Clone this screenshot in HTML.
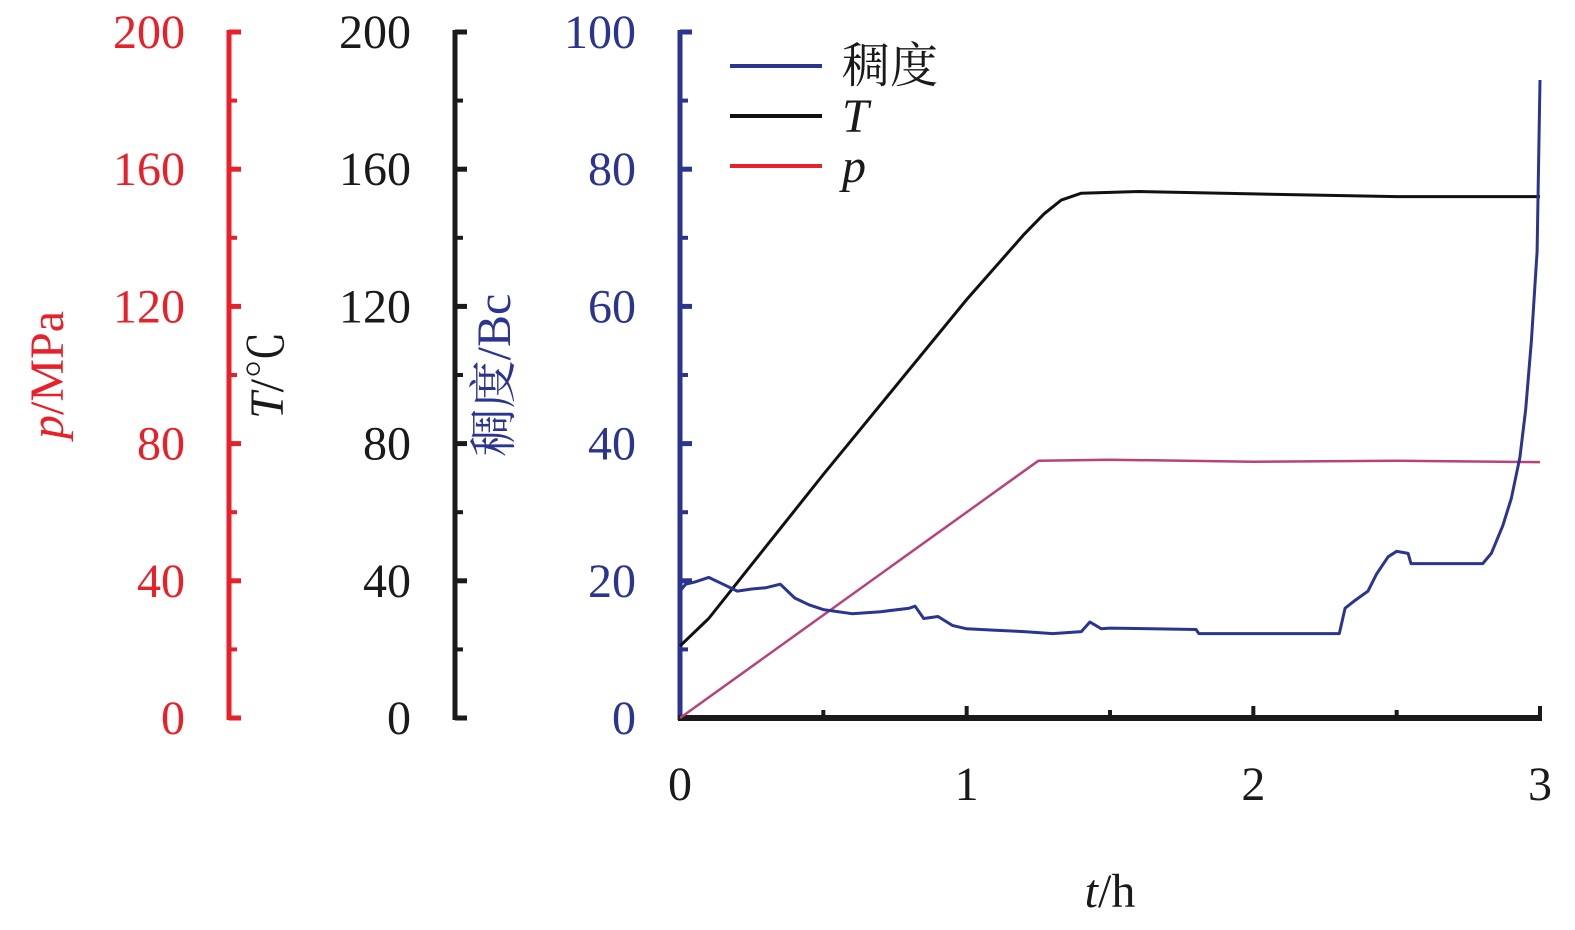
<!DOCTYPE html>
<html><head><meta charset="utf-8"><style>
body{margin:0;background:#fff;}
svg{display:block;font-family:"Liberation Serif","Noto Serif CJK SC",serif;}
</style></head><body>
<svg id="chart" width="1575" height="930" viewBox="0 0 1575 930" xmlns="http://www.w3.org/2000/svg"></svg>
<script>
const xTicks=[0,1,2,3];
const bcTicks=[0,20,40,60,80,100];
const tTicks=[0,40,80,120,160,200];
const pTicks=[0,40,80,120,160,200];
const bcTime=[0,0.02,0.05,0.1,0.15,0.2,0.25,0.3,0.35,0.4,0.45,0.5,0.6,0.7,0.8,0.82,0.85,0.9,0.95,1.0,1.1,1.2,1.3,1.4,1.43,1.47,1.5,1.8,1.81,2.3,2.32,2.35,2.4,2.43,2.47,2.5,2.54,2.55,2.8,2.83,2.87,2.9,2.93,2.95,2.97,2.99,3.0];
const bcVal=[18.5,19.5,19.8,20.5,19.5,18.5,18.8,19,19.5,17.5,16.5,15.8,15.2,15.5,16,16.3,14.5,14.8,13.5,13,12.8,12.6,12.3,12.6,14,13,13.1,12.9,12.3,12.3,16,17,18.5,21,23.5,24.3,24,22.5,22.5,24,28,32,38,45,55,68,93];
const tTime=[0,0.1,0.5,1.0,1.2,1.27,1.33,1.4,1.6,2.0,2.5,3.0];
const tVal=[21,29,71,122,141,147,151,153,153.5,152.8,152,152];
const pTime=[0,1.25,1.5,2.0,2.5,3.0];
const pVal=[0,75,75.3,74.7,75,74.6];

const svg=document.getElementById('chart');
const NS='http://www.w3.org/2000/svg';
const X0=680,X1=1540,Y0=718,Y1=32;
const xs=t=>X0+t/3*(X1-X0);
const yBc=v=>Y0-v/100*(Y0-Y1);
const yT=v=>Y0-v/200*(Y0-Y1);
const yP=v=>Y0-v/200*(Y0-Y1);
function mk(tag,attrs,parent){const e=document.createElementNS(NS,tag);for(const k in attrs)e.setAttribute(k,attrs[k]);(parent||svg).appendChild(e);return e;}

function yAxis(ax,color,ticks,yf,name){
  const g=mk('g',{});
  
  
  const l=mk('line',{x1:ax,x2:ax,y1:Y1-2,y2:Y0+2,stroke:color,'stroke-width':5},g);
  
  
  ticks.forEach((v,i)=>{
    const y=yf(v);
    mk('line',{x1:ax,x2:ax+12,y1:y,y2:y,stroke:color,'stroke-width':5},g);
    if(i<ticks.length-1){const ym=(y+yf(ticks[i+1]))/2;mk('line',{x1:ax,x2:ax+8,y1:ym,y2:ym,stroke:color,'stroke-width':4},g);}
    const t=mk('text',{x:ax-44,y:y+16,'text-anchor':'end','font-size':48,fill:color},g);
    
    
    t.textContent=v;
  });
}
yAxis(229,'#e8202a',pTicks,yP,'p-axis');
yAxis(455,'#1a1a1a',tTicks,yT,'t-axis');
yAxis(680,'#2b3590',bcTicks,yBc,'bc-axis');

const xa=mk('line',{x1:X0-2,x2:X1+2,y1:Y0,y2:Y0,stroke:'#1a1a1a','stroke-width':6});


for(let t=0.5;t<=3;t+=0.5){const x=xs(t);const major=Math.abs(t-Math.round(t))<1e-6;mk('line',{x1:x,x2:x,y1:Y0,y2:Y0-(major?12:8),stroke:'#1a1a1a','stroke-width':4});}
xTicks.forEach(v=>{const t=mk('text',{x:xs(v),y:800,'text-anchor':'middle','font-size':48,fill:'#1a1a1a'});


t.textContent=v;});

function title(x,y,color,html,name){const t=mk('text',{x:x,y:y,'text-anchor':'middle','font-size':48,fill:color,transform:`rotate(-90 ${x} ${y})`});


t.innerHTML=html;}
title(63,375,'#e8202a','<tspan font-style="italic">p</tspan>/MPa','p-axis-title');
title(283,375,'#1a1a1a','<tspan font-style="italic">T</tspan>/℃','t-axis-title');
title(510,375,'#2b3590','稠度/Bc','bc-axis-title');
const xt=mk('text',{x:1110,y:907,'text-anchor':'middle','font-size':48,fill:'#1a1a1a'});


xt.innerHTML='<tspan font-style="italic">t</tspan>/h';

function series(tt,vv,yf,color,w,name){const d=tt.map((t,i)=>(i?'L':'M')+xs(t).toFixed(1)+' '+yf(vv[i]).toFixed(1)).join(' ');
const p=mk('path',{d:d,fill:'none',stroke:color,'stroke-width':w,'stroke-linejoin':'round'});

}
series(pTime,pVal,yP,'#b8437a',2.5,'p-line');
series(tTime,tVal,yT,'#111',3,'t-line');
series(bcTime,bcVal,yBc,'#2b3590',3,'consistency-line');

const lg=mk('g',{});


[['稠度','#2b3590',66,false],['T','#111',116,true],['p','#e8202a',166,true]].forEach(([lab,c,y,it])=>{
  const e=mk('g',{},lg);
  
  
  mk('line',{x1:730,x2:822,y1:y,y2:y,stroke:c,'stroke-width':4},e);
  const t=mk('text',{x:842,y:y+16,'font-size':48,fill:'#1a1a1a','font-style':it?'italic':'normal'},e);
  t.textContent=lab;
});
</script>
</body></html>
